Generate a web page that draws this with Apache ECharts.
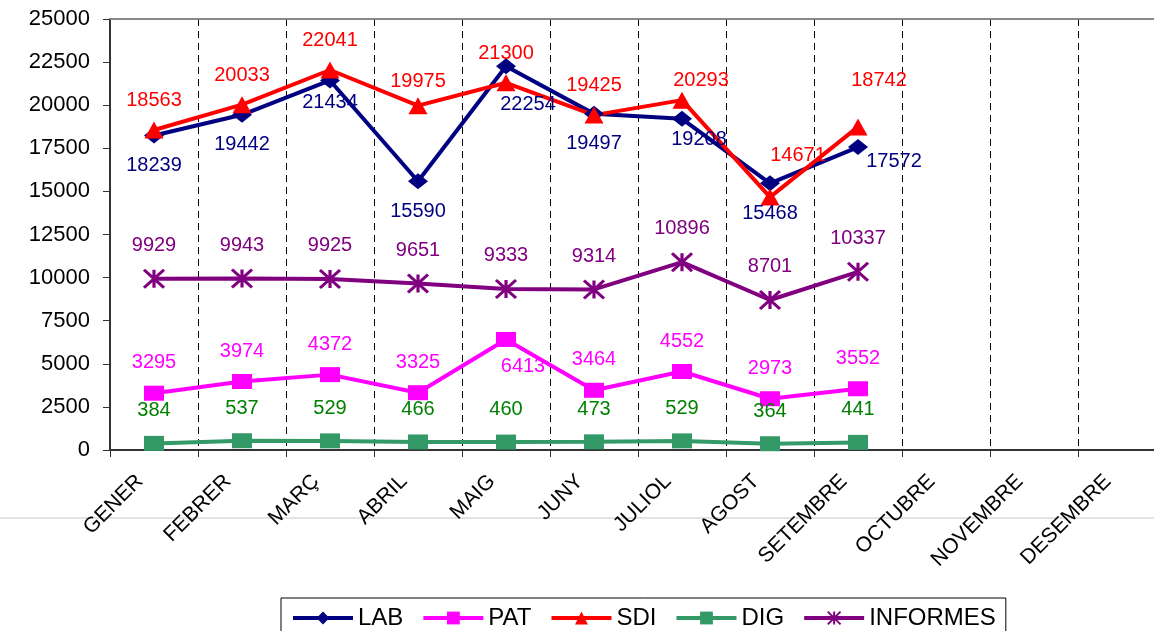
<!DOCTYPE html>
<html>
<head>
<meta charset="utf-8">
<script src="https://cdn.jsdelivr.net/npm/echarts@6/dist/echarts.min.js"></script>
<style>
  html, body { margin: 0; padding: 0; background: #fff; }
  #chart { width: 1154px; height: 631px; }
</style>
</head>
<body>
<div id="chart"></div>
<script>
const months = ["GENER", "FEBRER", "MARÇ", "ABRIL", "MAIG", "JUNY", "JULIOL", "AGOST", "SETEMBRE", "OCTUBRE", "NOVEMBRE", "DESEMBRE"];
const yTicks = [0, 2500, 5000, 7500, 10000, 12500, 15000, 17500, 20000, 22500, 25000];

const lab = [18239, 19442, 21434, 15590, 22254, 19497, 19208, 15468, 17572];
const pat = [3295, 3974, 4372, 3325, 6413, 3464, 4552, 2973, 3552];
const sdi = [18563, 20033, 22041, 19975, 21300, 19425, 20293, 14671, 18742];
const dig = [384, 537, 529, 466, 460, 473, 529, 364, 441];
const informes = [9929, 9943, 9925, 9651, 9333, 9314, 10896, 8701, 10337];

const FONT = "Liberation Sans, Arial, sans-serif";

// per-point label nudges (index -> label options)
const labTweaks = { 2: { offset: [0, -8] }, 4: { offset: [22, 8] }, 6: { offset: [17, -9] }, 8: { offset: [36, -16] } };
const sdiTweaks = { 6: { offset: [19, 10] }, 7: { offset: [28, -12] }, 8: { offset: [21, -17] }, 3: { offset: [0, 5] } };
const patTweaks = { 4: { position: "bottom", offset: [17, -3] } };

function build(values, tweaks) {
  return values.map((v, i) => (tweaks && tweaks[i]) ? { value: v, label: tweaks[i] } : v);
}

function lineSeries(name, color, labelColor, data, symbol, size, pos, dist, extra) {
  return Object.assign({
    name: name,
    type: "line",
    data: data,
    symbol: symbol,
    symbolSize: size,
    lineStyle: { color: color, width: 4 },
    itemStyle: { color: color },
    label: {
      show: true,
      position: pos,
      distance: dist,
      color: labelColor,
      fontFamily: FONT,
      fontSize: 20,
    },
    emphasis: { disabled: true },
    animation: false,
  }, extra || {});
}

const chart = echarts.init(document.getElementById("chart"), null, { renderer: "canvas" });

chart.setOption({
  animation: false,
  grid: { left: 110, top: 19, width: 1056, height: 431, outerBoundsMode: "none", containLabel: false },
  legend: {
    left: 281,
    top: 598,
    padding: [8, 10, 12, 10],
    itemGap: 18,
    itemWidth: 60,
    itemHeight: 16,
    borderColor: "#000",
    borderWidth: 1,
    lineStyle: { width: 4 },
    textStyle: { fontFamily: FONT, fontSize: 24, color: "#000" },
    data: ["LAB", "PAT", "SDI", "DIG", "INFORMES"],
  },
  graphic: [
    { type: "line", shape: { x1: 0, y1: 518, x2: 1154, y2: 518 }, style: { stroke: "#c8c8c8", lineWidth: 1 }, silent: true },
  ],
  xAxis: [
    {
      type: "category",
      data: months,
      boundaryGap: true,
      axisLine: { lineStyle: { color: "#333", width: 2 } },
      axisTick: { show: true, length: 7, lineStyle: { color: "#333", width: 1 } },
      axisLabel: { rotate: 45, margin: 14, padding: [0, 20, 0, 0], interval: 0, color: "#000", fontFamily: FONT, fontSize: 21 },
      splitLine: { show: true, lineStyle: { color: "#000", width: 1, type: [7, 5] } },
    },
    {
      type: "category",
      data: months,
      position: "top",
      axisLine: { lineStyle: { color: "#888", width: 2 } },
      axisTick: { show: false },
      axisLabel: { show: false },
      splitLine: { show: false },
    },
  ],
  yAxis: {
    type: "value",
    min: yTicks[0],
    max: yTicks[yTicks.length - 1],
    interval: yTicks[1] - yTicks[0],
    axisLine: { show: true, lineStyle: { color: "#333", width: 2 } },
    axisTick: { show: true, length: 7, lineStyle: { color: "#333" } },
    axisLabel: { margin: 20, color: "#000", fontFamily: FONT, fontSize: 22, formatter: (v) => String(v) },
    splitLine: { show: false },
  },
  series: [
    lineSeries("LAB", "#000080", "#000080", build(lab, labTweaks), "diamond", [20, 16], "bottom", 12),
    lineSeries("PAT", "#FF00FF", "#FF00FF", build(pat, patTweaks), "rect", [20, 15], "top", 13),
    lineSeries("SDI", "#FF0000", "#FF0000", build(sdi, sdiTweaks), "triangle", [19, 17], "top", 11),
    lineSeries("DIG", "#339966", "#008000", build(dig), "rect", [20, 15], "top", 15),
    lineSeries("INFORMES", "#800080", "#800080", build(informes), "path://M0,0L20,18M20,0L0,18M10,0L10,18", [20, 18], "top", 13,
      { itemStyle: { color: "#800080", borderColor: "#800080", borderWidth: 3 } }),
  ],
});
</script>
</body>
</html>
